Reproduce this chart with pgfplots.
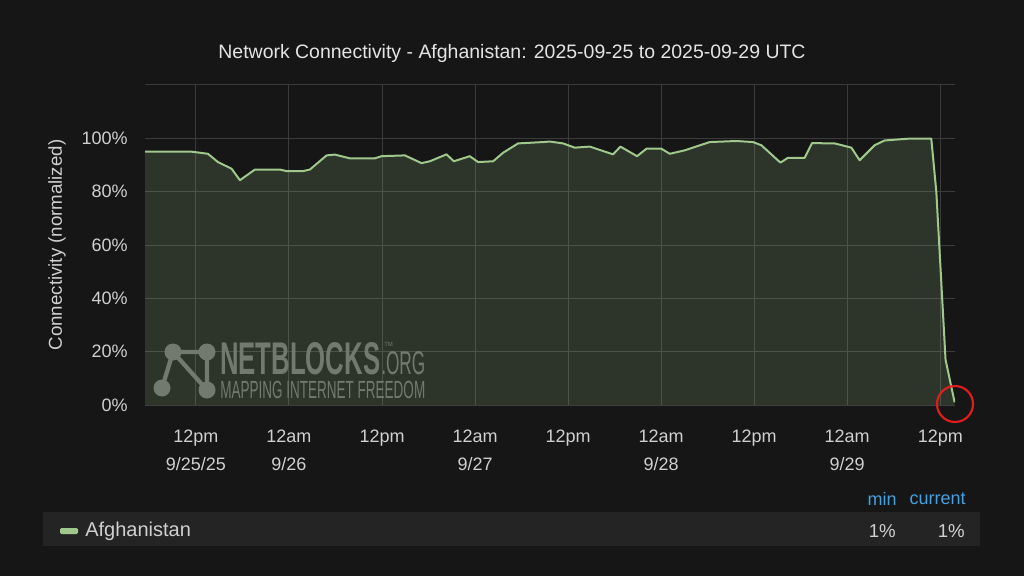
\documentclass[border=0pt]{standalone}
\usepackage{fontspec}
\setmainfont{Liberation Sans}
\usepackage{graphicx}
\usepackage{pgfplots}
\usepackage{pgfplotstable}
\pgfplotsset{compat=1.18}
\definecolor{bg}{RGB}{22,22,22}
\definecolor{gridc}{RGB}{60,60,60}
\definecolor{linec}{RGB}{160,200,140}
\definecolor{fillc}{RGB}{140,180,130}
\definecolor{txt}{RGB}{208,208,208}
\definecolor{ttl}{RGB}{228,228,228}
\definecolor{legbg}{RGB}{36,36,36}
\definecolor{blu}{RGB}{70,160,225}
\definecolor{wm}{RGB}{112,122,110}
\definecolor{circ}{RGB}{225,30,30}

\pgfplotstableread{
h v
5.43 95.0
11.45 95.0
13.55 94.2
14.84 91.1
16.60 88.6
17.67 84.3
19.61 88.3
22.83 88.3
23.69 87.7
25.79 87.7
26.70 88.3
28.85 93.6
29.92 93.9
31.85 92.5
35.08 92.5
35.94 93.3
38.94 93.6
41.10 90.7
42.17 91.4
44.32 94.0
45.26 91.4
47.32 93.3
48.39 91.1
50.33 91.4
51.62 94.6
53.55 98.1
56.77 98.6
57.64 98.8
59.35 98.1
60.86 96.5
62.79 96.9
65.80 94.0
66.75 96.9
68.89 93.3
70.10 96.1
72.04 96.1
73.11 94.2
75.04 95.5
78.26 98.6
81.71 99.0
83.85 98.6
84.93 97.4
87.38 90.9
88.36 92.7
90.51 92.7
91.45 98.2
94.38 98.1
96.53 96.5
97.60 91.8
99.53 97.4
100.82 99.2
104.04 99.9
106.84 99.9
107.49 80.0
108.68 17.0
109.85 1.0
}\afg

\begin{document}
\begin{tikzpicture}
\begin{scope}[x=0.75pt,y=-0.75pt,yshift=432pt]
\fill[bg] (0,0) rectangle (1024,576);
\end{scope}
\begin{axis}[
  at={(108.75pt,128.25pt)}, anchor=south west,
  scale only axis, width=607.5pt, height=240pt,
  xmin=5.43, xmax=109.9, ymin=0, ymax=120,
  axis line style={draw=none},
  major tick length=0pt,
  tick style={draw=none},
  grid=major,
  grid style={gridc, line width=0.75pt},
  xtick={12,24,...,108},
  xticklabels={{12pm\\9/25/25},{12am\\9/26},12pm,{12am\\9/27},12pm,{12am\\9/28},12pm,{12am\\9/29},12pm},
  xticklabel style={align=center, anchor=north, inner sep=0pt, yshift=-18.75pt, font=\fontsize{13.5}{21}\selectfont, text=txt},
  ytick={0,20,40,60,80,100,120},
  yticklabels={0\%,20\%,40\%,60\%,80\%,100\%,{}},
  yticklabel style={anchor=east, inner sep=0pt, xshift=-12.75pt, font=\fontsize{13.5}{16}\selectfont, text=txt},
]
\addplot[draw=none, fill=fillc, fill opacity=0.2] table[x=h, y=v] {\afg} \closedcycle;
\addplot[draw=linec, line width=1.5pt, line join=round, mark=none] table[x=h, y=v] {\afg};
\end{axis}
\begin{scope}[x=0.75pt,y=-0.75pt,yshift=432pt]
\node[font=\fontsize{14.6}{17}\selectfont, text=ttl] at (512,53) {Network Connectivity - Afghanistan: 2025-09-25 to 2025-09-29 UTC};
\node[rotate=90, font=\fontsize{14}{17}\selectfont, text=txt] at (57,245) {Connectivity (normalized)};
% watermark
\fill[wm] (173,352) circle (8.5) (207,352) circle (8.5) (162,388) circle (8.5) (207,390) circle (8.5);
\draw[wm, line width=3.2pt] (173,352)--(207,352) (173,352)--(207,390) (173,352)--(162,388) (207,352)--(207,390);
\node[anchor=south west, inner sep=0pt, text=wm] at (220,375) {\resizebox{120pt}{24pt}{\bfseries NETBLOCKS}};
\node[anchor=south west, inner sep=0pt, text=wm] at (381,375) {\resizebox{33pt}{17.25pt}{.ORG}};
\node[anchor=south west, inner sep=0pt, text=wm, font=\fontsize{4.5}{5}\selectfont] at (384,347) {TM};
\node[anchor=south west, inner sep=0pt, text=wm] at (220,399) {\resizebox{153.75pt}{13pt}{MAPPING INTERNET FREEDOM}};
% red circle
\draw[circ, line width=1.6pt] (955,404) circle (18);
% legend
\fill[legbg] (43,512) rectangle (980,546);
\fill[linec, rounded corners=1pt] (60,528) rectangle (78,534);
\node[anchor=west, inner sep=0pt, font=\fontsize{15}{18}\selectfont, text=txt] at (85,531) {Afghanistan};
\node[anchor=east, inner sep=0pt, font=\fontsize{14}{18}\selectfont, text=txt] at (896,531) {1\%};
\node[anchor=east, inner sep=0pt, font=\fontsize{14}{18}\selectfont, text=txt] at (965,531) {1\%};
\node[anchor=east, inner sep=0pt, font=\fontsize{13.5}{16}\selectfont, text=blu] at (897,499) {min};
\node[anchor=east, inner sep=0pt, font=\fontsize{13.5}{16}\selectfont, text=blu] at (966,499) {current};
\end{scope}
\pgfresetboundingbox
\path[use as bounding box] (0,0) rectangle (768pt,432pt);
\end{tikzpicture}
\end{document}
